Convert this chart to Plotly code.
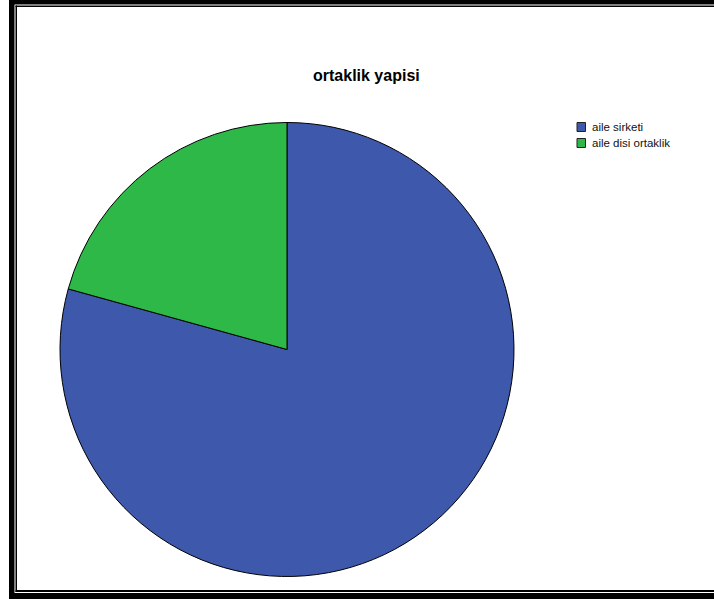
import plotly.graph_objects as go

W, H = 714, 599

title_text = "ortaklik yapisi"
categories = ["aile sirketi", "aile disi ortaklik"]
values = [79.3, 20.7]
colors = ["#3E58AC", "#2EB848"]

# pie geometry (pixels)
cx, cy, r = 287, 349.5, 227

def px_x(x):
    return x / W

def px_y(y):
    return 1 - y / H

fig = go.Figure()
fig.add_trace(go.Pie(
    labels=categories,
    values=values,
    sort=False,
    direction="clockwise",
    rotation=0,
    marker=dict(colors=colors, line=dict(color="black", width=1)),
    textinfo="none",
    hoverinfo="label+percent",
    showlegend=False,
    domain=dict(x=[px_x(cx - r), px_x(cx + r)], y=[px_y(cy + r), px_y(cy - r)]),
))

shapes = []
def bar(x0, y0, x1, y1, fill="black", line=0):
    shapes.append(dict(type="rect", xref="paper", yref="paper",
                       x0=px_x(x0), x1=px_x(x1), y0=px_y(y1), y1=px_y(y0),
                       fillcolor=fill,
                       line=dict(width=line, color="#222222"), layer="above"))

# double frame
bar(9, 0, 14.5, 599)      # left outer
bar(15.5, 5.5, 17, 592)   # left inner
bar(9, 0, 714, 4.5)       # top outer
bar(15.5, 5.5, 714, 7)    # top inner
bar(15.5, 590, 714, 592)  # bottom inner
bar(9, 593, 714, 599)     # bottom outer

annotations = [dict(
    text="<b>" + title_text + "</b>", xref="paper", yref="paper",
    x=px_x(367), y=px_y(75.5), xanchor="center", yanchor="middle",
    showarrow=False,
    font=dict(family="Liberation Sans, Arial, sans-serif", size=16, color="black"),
)]

# legend (swatch + label per category)
leg_x, leg_y0, leg_dy = 577, 127, 16
for i, (lab, col) in enumerate(zip(categories, colors)):
    yc = leg_y0 + i * leg_dy
    bar(leg_x, yc - 4.5, leg_x + 8.5, yc + 4.5, fill=col, line=1)
    annotations.append(dict(
        text=lab, xref="paper", yref="paper",
        x=px_x(leg_x + 13), y=px_y(yc), xanchor="left", yanchor="middle",
        showarrow=False,
        font=dict(family="Liberation Sans, Arial, sans-serif", size=11.5, color="#111111"),
    ))

fig.update_layout(
    width=W, height=H,
    margin=dict(l=0, r=0, t=0, b=0),
    paper_bgcolor="white",
    plot_bgcolor="white",
    shapes=shapes,
    showlegend=False,
    annotations=annotations,
)

fig.write_html("out.html", config={"displayModeBar": False},
               post_script="document.body.style.margin='0';")
